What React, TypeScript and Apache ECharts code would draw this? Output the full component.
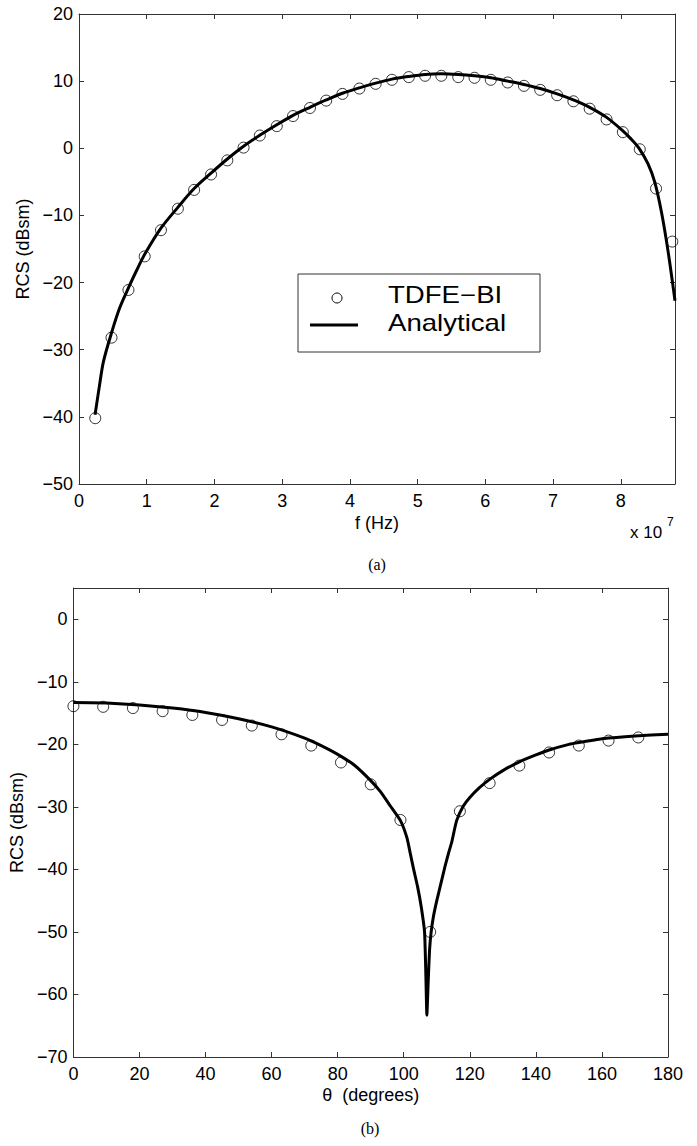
import React, { useEffect, useRef } from "react";
import * as echarts from "echarts";

// ---- Plot (a): RCS vs frequency (x in units of 1e7 Hz) ----
const freqMarkersX = [
  0.24, 0.48, 0.73, 0.97, 1.21, 1.46, 1.70, 1.95, 2.19, 2.43, 2.67, 2.92,
  3.16, 3.41, 3.65, 3.89, 4.14, 4.38, 4.62, 4.87, 5.11, 5.35, 5.60, 5.84,
  6.08, 6.33, 6.57, 6.81, 7.06, 7.30, 7.54, 7.79, 8.03, 8.28, 8.52, 8.76,
];
const freqMarkersY = [
  -40.2, -28.2, -21.1, -16.1, -12.2, -9.0, -6.2, -3.9, -1.8, 0.1, 1.9, 3.3,
  4.8, 6.0, 7.1, 8.1, 8.9, 9.6, 10.2, 10.6, 10.8, 10.8, 10.6, 10.5,
  10.2, 9.8, 9.3, 8.7, 7.9, 7.0, 5.9, 4.3, 2.4, -0.15, -6.0, -13.9,
];
const freqCurveX = [
  0.237, 0.3, 0.36, 0.48, 0.6, 0.73, 0.85, 0.97, 1.21, 1.46, 1.7, 1.95, 2.19,
  2.43, 2.68, 2.92, 3.16, 3.41, 3.65, 3.89, 4.14, 4.38, 4.62, 4.87, 5.11,
  5.35, 5.6, 5.84, 6.08, 6.33, 6.57, 6.81, 7.06, 7.3, 7.54, 7.79, 8.03, 8.15,
  8.27, 8.4, 8.5, 8.6, 8.7, 8.8,
];
const freqCurveY = [
  -39.7, -35.5, -31.8, -27.5, -23.8, -20.8, -18.2, -15.8, -11.9, -8.8, -6.0,
  -3.7, -1.6, 0.3, 2.0, 3.5, 4.9, 6.1, 7.2, 8.2, 9.0, 9.7, 10.3, 10.7, 11.0,
  11.1, 11.0, 10.8, 10.5, 10.0, 9.5, 8.9, 8.1, 7.2, 6.1, 4.6, 2.6, 1.4, 0.0,
  -2.3, -5.0, -9.5, -15.5, -22.7,
];
const freqTicks = { min: 0, max: 8.8, interval: 1 };
const rcsTicksA = { min: -50, max: 20, interval: 10 };

// ---- Plot (b): RCS vs angle ----
const angleMarkersX = [
  0, 9, 18, 27, 36, 45, 54, 63, 72, 81, 90, 99, 108, 117, 126, 135, 144, 153,
  162, 171,
];
const angleMarkersY = [
  -13.9, -14.0, -14.2, -14.7, -15.3, -16.1, -17.0, -18.4, -20.2, -22.9, -26.4,
  -32.1, -50.0, -30.7, -26.2, -23.4, -21.3, -20.2, -19.4, -18.9,
];
const angleCurveX = [
  0, 10, 20, 30, 40, 50, 60, 70, 75, 80, 85, 90, 93, 96, 99, 101, 102, 103,
  104.2, 105.3, 106.3, 106.7, 107.0, 107.4, 107.8, 108.3, 109, 110, 111, 112.5,
  113.5, 114.5, 116, 118, 120, 123, 126, 130, 135, 140, 144, 150, 153, 160,
  170, 180,
];
const angleCurveY = [
  -13.3, -13.4, -13.7, -14.2, -14.9, -15.9, -17.2, -19.0, -20.2, -21.6, -23.3,
  -25.8, -27.6, -29.9, -32.2, -35.0, -37.5, -40.0, -42.8, -46.0, -50.0, -57.0,
  -63.3, -58.0, -53.0, -50.0, -47.5, -45.0, -42.8, -39.5, -37.5, -35.7, -32.2,
  -29.9, -28.5, -26.9, -25.6, -24.2, -22.8, -21.7, -20.9, -20.0, -19.7, -19.1,
  -18.65, -18.4,
];
const angleTicks = { min: 0, max: 180, interval: 20 };
const rcsTicksB = { min: -70, max: 5, interval: 10 };

const legendNames = ["TDFE\u2212BI", "Analytical"];

const pairs = (xs: number[], ys: number[]) => xs.map((x, i) => [x, ys[i]]);
const minus = (v: number) => String(v).replace("-", "\u2212");

const FONT = "Liberation Sans";
const SERIF = "Liberation Serif";
const AXIS_COLOR = "#333";

function axisBase(extra: any) {
  return {
    type: "value",
    splitLine: { show: false },
    axisLine: { show: true, onZero: false, lineStyle: { color: AXIS_COLOR, width: 1 } },
    axisTick: { show: true, inside: true, length: 5, lineStyle: { color: AXIS_COLOR } },
    ...extra,
  };
}

function labelStyle(margin: number) {
  return {
    show: true,
    color: "#000",
    fontFamily: FONT,
    fontSize: 18,
    margin,
    formatter: minus,
    showMaxLabel: false,
  };
}

export default function App() {
  const ref = useRef<HTMLDivElement>(null);
  useEffect(() => {
    if (!ref.current) return;
    const chart = echarts.init(ref.current, null, { renderer: "svg" });
    const nameStyle = { color: "#000", fontFamily: FONT, fontSize: 18 };
    const option: any = {
      animation: false,
      backgroundColor: "#fff",
      grid: [
        { left: 79, top: 14, width: 596, height: 470 },
        { left: 72, top: 588, width: 596, height: 469 },
      ],
      xAxis: [
        axisBase({
          gridIndex: 0, position: "bottom", ...freqTicks,
          axisLabel: labelStyle(8),
          name: "f (Hz)", nameLocation: "middle", nameGap: 30, nameTextStyle: nameStyle,
        }),
        axisBase({ gridIndex: 0, position: "top", ...freqTicks, axisLabel: { show: false } }),
        axisBase({
          gridIndex: 1, position: "bottom", ...angleTicks,
          axisLabel: { ...labelStyle(8), showMaxLabel: true },
          name: "\u03b8  (degrees)", nameLocation: "middle", nameGap: 29, nameTextStyle: nameStyle,
        }),
        axisBase({ gridIndex: 1, position: "top", ...angleTicks, axisLabel: { show: false } }),
      ],
      yAxis: [
        axisBase({
          gridIndex: 0, position: "left", ...rcsTicksA,
          axisLabel: { ...labelStyle(6), showMaxLabel: true },
          name: "RCS (dBsm)", nameLocation: "middle", nameGap: 38, nameTextStyle: nameStyle,
        }),
        axisBase({ gridIndex: 0, position: "right", ...rcsTicksA, axisLabel: { show: false } }),
        axisBase({
          gridIndex: 1, position: "left", ...rcsTicksB,
          axisLabel: labelStyle(6),
          name: "RCS (dBsm)", nameLocation: "middle", nameGap: 38, nameTextStyle: nameStyle,
        }),
        axisBase({ gridIndex: 1, position: "right", ...rcsTicksB, axisLabel: { show: false } }),
      ],
      series: [
        {
          name: legendNames[1], type: "line", xAxisIndex: 0, yAxisIndex: 0,
          data: pairs(freqCurveX, freqCurveY), showSymbol: false, smooth: 0.3,
          lineStyle: { color: "#000", width: 3 }, z: 2,
        },
        {
          name: legendNames[0], type: "scatter", xAxisIndex: 0, yAxisIndex: 0,
          data: pairs(freqMarkersX, freqMarkersY), symbol: "circle", symbolSize: 11,
          itemStyle: { color: "rgba(0,0,0,0)", borderColor: "#000", borderWidth: 1 }, z: 3,
        },
        {
          name: legendNames[1] + " (b)", type: "line", xAxisIndex: 2, yAxisIndex: 2,
          data: pairs(angleCurveX, angleCurveY), showSymbol: false, smooth: 0.15,
          lineStyle: { color: "#000", width: 3, join: "round" }, z: 2,
        },
        {
          name: legendNames[0] + " (b)", type: "scatter", xAxisIndex: 2, yAxisIndex: 2,
          data: pairs(angleMarkersX, angleMarkersY), symbol: "circle", symbolSize: 11,
          itemStyle: { color: "rgba(0,0,0,0)", borderColor: "#000", borderWidth: 1 }, z: 3,
        },
      ],
      graphic: [
        {
          type: "group", z: 10,
          children: [
            { type: "rect", shape: { x: 298, y: 274, width: 242, height: 78 },
              style: { fill: "#fff", stroke: AXIS_COLOR, lineWidth: 1 } },
            { type: "circle", shape: { cx: 337, cy: 298, r: 5 },
              style: { fill: "none", stroke: "#000", lineWidth: 1 } },
            { type: "line", shape: { x1: 310, y1: 325, x2: 358, y2: 325 },
              style: { stroke: "#000", lineWidth: 3 } },
            { type: "text", x: 388, y: 295, scaleX: 1.2,
              style: { text: legendNames[0], fill: "#000", fontFamily: FONT, fontSize: 23,
                verticalAlign: "middle", align: "left" } },
            { type: "text", x: 388, y: 323, scaleX: 1.2,
              style: { text: legendNames[1], fill: "#000", fontFamily: FONT, fontSize: 23,
                verticalAlign: "middle", align: "left" } },
          ],
        },
        { type: "text", x: 630, y: 532,
          style: { text: "x 10", fill: "#000", fontFamily: FONT, fontSize: 17,
            verticalAlign: "middle", align: "left" } },
        { type: "text", x: 667, y: 522,
          style: { text: "7", fill: "#000", fontFamily: FONT, fontSize: 12,
            verticalAlign: "middle", align: "left" } },
        { type: "text", x: 377, y: 564,
          style: { text: "(a)", fill: "#000", fontFamily: SERIF, fontSize: 16,
            verticalAlign: "middle", align: "center" } },
        { type: "text", x: 370, y: 1128,
          style: { text: "(b)", fill: "#000", fontFamily: SERIF, fontSize: 16,
            verticalAlign: "middle", align: "center" } },
      ],
    };
    chart.setOption(option);
    return () => chart.dispose();
  }, []);
  return (
    <div
      ref={ref}
      style={{ position: "absolute", left: 0, top: 0, width: 697, height: 1146, background: "#fff" }}
    />
  );
}
